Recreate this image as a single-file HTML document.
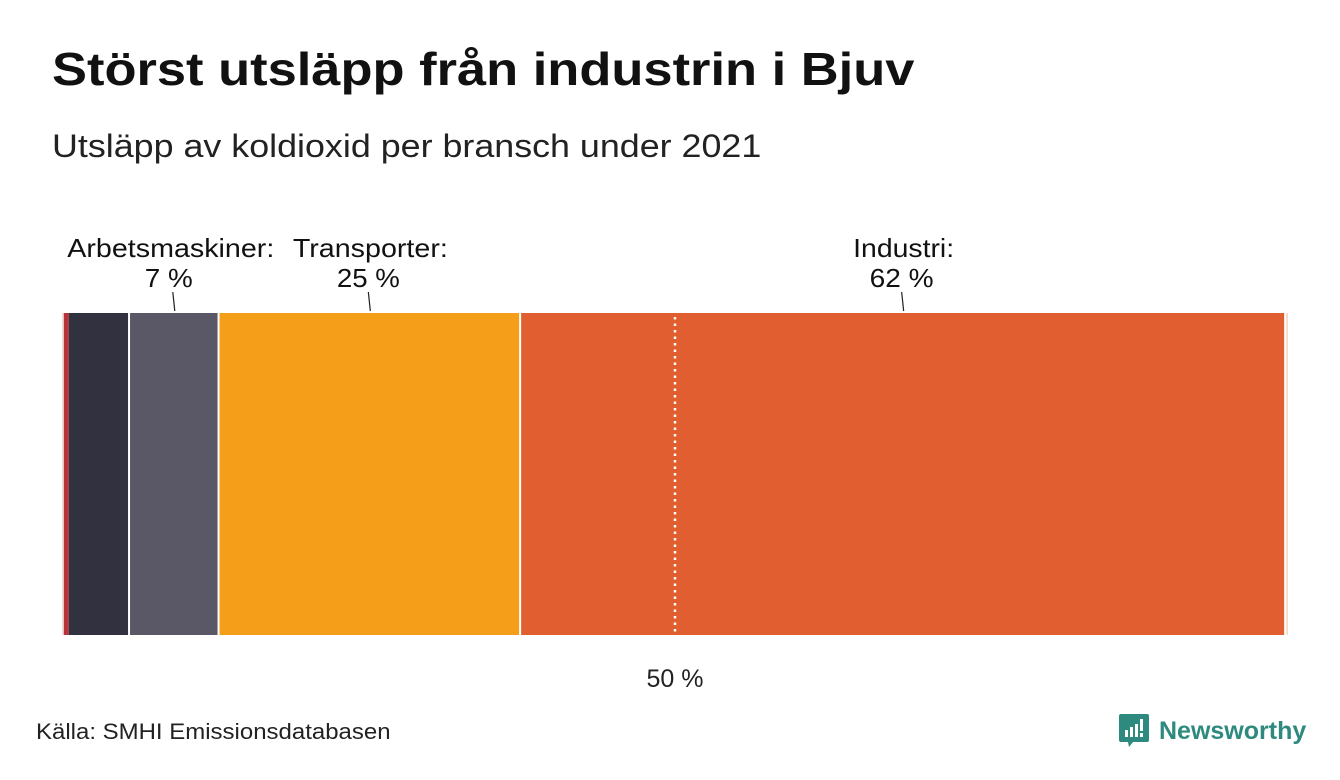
<!DOCTYPE html>
<html><head><meta charset="utf-8"><style>
body{margin:0;width:1340px;height:780px;background:#fff;font-family:"Liberation Sans",sans-serif;overflow:hidden;position:relative}
h1{position:absolute;left:52px;top:42px;margin:0;font-size:46px;font-weight:bold;color:#111;transform-origin:0 0;transform:scaleX(1.14);white-space:nowrap}
.sub{position:absolute;left:52px;top:128px;font-size:32px;color:#222;transform-origin:0 0;transform:scaleX(1.12);white-space:nowrap}
.src{position:absolute;left:36px;top:719px;font-size:22px;color:#222;transform-origin:0 0;transform:scaleX(1.09);white-space:nowrap}
.logo{position:absolute;left:1119px;top:714px;display:flex;align-items:center;gap:10px;color:#2e8a7f;font-weight:bold;font-size:25px}
</style></head><body>
<h1>Störst utsläpp från industrin i Bjuv</h1>
<div class="sub">Utsläpp av koldioxid per bransch under 2021</div>
<svg id="chart" width="1340" height="780" style="position:absolute;left:0;top:0"></svg>
<div class="src">Källa: SMHI Emissionsdatabasen</div>
<div class="logo"><svg width="30" height="34" viewBox="0 0 30 34"><path d="M2 0h26a2 2 0 0 1 2 2v24a2 2 0 0 1-2 2H14l-4 5-1-5H2a2 2 0 0 1-2-2V2a2 2 0 0 1 2-2z" fill="#2e8a7f"/><rect x="6" y="16" width="3" height="7" fill="#fff"/><rect x="11" y="13" width="3" height="10" fill="#fff"/><rect x="16" y="10" width="3" height="13" fill="#fff"/><rect x="21" y="5" width="3" height="12" fill="#fff"/><rect x="21" y="19" width="3" height="4" fill="#fff"/></svg><span>Newsworthy</span></div>
<script>
const categories=["Övrigt","Energi","Jordbruk","Arbetsmaskiner","Transporter","Industri","Avfall"];
const values=[0.15,0.4,5.0,7.3,24.6,62.4,0.15];
const colors=["#f3d9d9","#b8323a","#32313f","#5a5866","#f59e1a","#e05e2f","#f7d9d0"];
const labelNames=["Arbetsmaskiner:","Transporter:","Industri:"];
const labelValues=["7 %","25 %","62 %"];
const labelIdx=[3,4,5];
const svg=document.getElementById('chart');
const NS="http://www.w3.org/2000/svg";
const x0=62,x1=1288,yTop=313,yBot=635;
const total=values.reduce((a,b)=>a+b,0);
const xs=v=>x0+(v/total)*(x1-x0);
function mk(t,a){const e=document.createElementNS(NS,t);for(const k in a)e.setAttribute(k,a[k]);svg.appendChild(e);return e;}
let cum=0;const starts=[];
values.forEach((v,i)=>{starts.push(cum);
 const r=mk('rect',{x:xs(cum),y:yTop,width:Math.max(0,xs(cum+v)-xs(cum)-(v>1?2:0)),height:yBot-yTop,fill:colors[i]});
 
 
 cum+=v;});
const mx=xs(total*0.5);
const ml=mk('line',{x1:mx,x2:mx,y1:yTop+4,y2:yBot,stroke:'#fff','stroke-width':2.5,'stroke-dasharray':'2.5,4'});


const mt=mk('text',{x:mx,y:687,'text-anchor':'middle','font-size':25,fill:'#222'});mt.textContent='50 %';


const offs=[-4,0,0];
const nameW=[207,155,101];
const valW=[48,63,64];
labelIdx.forEach((ci,j)=>{const c=xs(starts[ci]+values[ci]/2);
 const ln=mk('line',{x1:c-2,x2:c,y1:292,y2:311,stroke:'#222','stroke-width':1.2});
 
 
 const t1=mk('text',{x:c+offs[j],y:257,'text-anchor':'middle','font-size':26,fill:'#111',textLength:nameW[j],lengthAdjust:'spacingAndGlyphs'});t1.textContent=labelNames[j];
 
 
 const t2=mk('text',{x:c+offs[j]-2,y:287,'text-anchor':'middle','font-size':26,fill:'#111',textLength:valW[j],lengthAdjust:'spacingAndGlyphs'});t2.textContent=labelValues[j];
 
 });
</script>
</body></html>
